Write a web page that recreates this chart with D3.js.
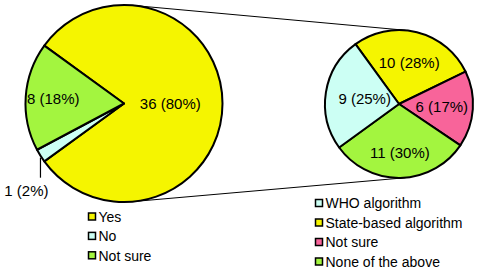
<!DOCTYPE html>
<html>
<head>
<meta charset="utf-8">
<script src="https://cdn.jsdelivr.net/npm/d3@7"></script>
<style>
  body { margin: 0; background: #fff; }
  text { font-family: 'Liberation Sans', Arial, sans-serif; fill: #000; }
</style>
</head>
<body>
<div id="chart"></div>
<script>
// Data
const mainLabels = ['Yes', 'No', 'Not sure']
const mainValues = [36, 1, 8]
const mainPercents = [80, 2, 18]
const mainColors = ['#f5f500', '#ccfff4', '#a3f53f']

const subLabels = ['State-based algorithm', 'Not sure', 'None of the above', 'WHO algorithm']
const subValues = [10, 6, 11, 9]
const subPercents = [28, 17, 30, 25]
const subColors = ['#f5f500', '#f8649a', '#a3f53f', '#ccfff4']
const subLegendOrder = ['WHO algorithm', 'State-based algorithm', 'Not sure', 'None of the above']

const width = 480
const height = 277

const svg = d3
  .select('#chart')
  .append('svg')
  .attr('width', width)
  .attr('height', height)

const fmtLabel = (v, p) => v + ' (' + p + '%)'

// Pie geometry
const left = { cx: 124, cy: 103.5, r: 98.5 }
const right = { cx: 399, cy: 104, r: 74 }

const deg = Math.PI / 180

const mainPie = d3.pie().sort(null).startAngle(-54 * deg).endAngle(306 * deg)
const subPie = d3.pie().sort(null).startAngle(-36 * deg).endAngle(324 * deg)

// Connector lines (outer tangents of the two circles)
const dist = right.cx - left.cx
const tAng = Math.asin((left.r - right.r) / dist)
const tangentPts = [-1, 1].map(s => [
  [left.cx + left.r * Math.sin(tAng), left.cy + s * left.r * Math.cos(tAng)],
  [right.cx + right.r * Math.sin(tAng), right.cy + s * right.r * Math.cos(tAng)]
])
svg
  .selectAll('.connector')
  .data(tangentPts)
  .enter()
  .append('line')
  .attr('class', 'connector')
  .attr('x1', d => d[0][0])
  .attr('y1', d => d[0][1])
  .attr('x2', d => d[1][0])
  .attr('y2', d => d[1][1])
  .attr('stroke', '#000')
  .attr('stroke-width', 1)

function drawPie(cfg, arcs, colors, percents, labelFrac, skipLabel) {
  const g = svg
    .append('g')
    .attr('transform', 'translate(' + cfg.cx + ',' + cfg.cy + ')')
  const arc = d3.arc().innerRadius(0).outerRadius(cfg.r)

  g.selectAll('path')
    .data(arcs)
    .enter()
    .append('path')
    .attr('d', arc)
    .attr('fill', (d, i) => colors[i])
    .attr('stroke', '#000')
    .attr('stroke-width', 2)
    .attr('stroke-linejoin', 'round')

  g.selectAll('text')
    .data(arcs.filter((d, i) => i !== skipLabel))
    .enter()
    .append('text')
    .attr('x', d => {
      const a = (d.startAngle + d.endAngle) / 2
      return Math.sin(a) * cfg.r * labelFrac[d.index]
    })
    .attr('y', d => {
      const a = (d.startAngle + d.endAngle) / 2
      return -Math.cos(a) * cfg.r * labelFrac[d.index]
    })
    .attr('dy', '0.35em')
    .attr('text-anchor', 'middle')
    .attr('font-size', 15)
    .text(d => fmtLabel(d.value, percents[d.index]))
  return g
}

const mainArcs = mainPie(mainValues)
const gLeft = drawPie(left, mainArcs, mainColors, mainPercents, [0.47, 1, 0.72], 1)
drawPie(right, subPie(subValues), subColors, subPercents, [0.57, 0.58, 0.66, 0.47], -1)

// Outside label for the small "No" slice
const small = mainArcs[1]
const sa = (small.startAngle + small.endAngle) / 2
const px = Math.sin(sa) * left.r
const py = -Math.cos(sa) * left.r
gLeft
  .append('line')
  .attr('x1', px)
  .attr('y1', py + 2)
  .attr('x2', px)
  .attr('y2', py + 22)
  .attr('stroke', '#000')
  .attr('stroke-width', 1.2)
gLeft
  .append('text')
  .attr('x', px + 8)
  .attr('y', py + 40)
  .attr('text-anchor', 'end')
  .attr('font-size', 15)
  .text(fmtLabel(small.value, mainPercents[1]))

// Legends
function drawLegend(x, y, step, labels, colorOf) {
  const g = svg.append('g').attr('transform', 'translate(' + x + ',' + y + ')')
  const item = g
    .selectAll('g')
    .data(labels)
    .enter()
    .append('g')
    .attr('transform', (d, i) => 'translate(0,' + i * step + ')')
  item
    .append('rect')
    .attr('x', 0)
    .attr('y', -4)
    .attr('width', 7)
    .attr('height', 7)
    .attr('fill', d => colorOf(d))
    .attr('stroke', '#000')
    .attr('stroke-width', 1.5)
  item
    .append('text')
    .attr('x', 10)
    .attr('y', 0)
    .attr('dy', '0.35em')
    .attr('font-size', 14)
    .text(d => d)
}

drawLegend(88.5, 217, 19.4, mainLabels, d => mainColors[mainLabels.indexOf(d)])
drawLegend(315.5, 203.5, 19.5, subLegendOrder, d => subColors[subLabels.indexOf(d)])
</script>
</body>
</html>
